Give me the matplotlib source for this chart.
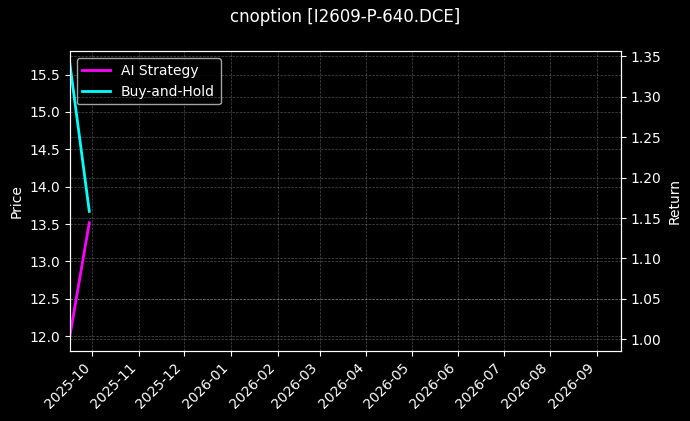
import matplotlib
matplotlib.use("Agg")
import matplotlib.pyplot as plt
import matplotlib.dates as mdates
import pandas as pd

plt.style.use('dark_background')

title = "cnoption [I2609-P-640.DCE]"
dates = pd.to_datetime(["2025-09-16", "2025-09-29"])
ai_strategy = [1.0030, 1.144]      # return (right axis)
buy_and_hold = [15.66, 13.67]      # price (left axis)
x_range = pd.to_datetime(["2025-09-16", "2026-09-17"])
price_lim = (11.80, 15.81)
return_lim = (0.9855, 1.356)

fig, ax1 = plt.subplots(figsize=(6.9, 4.21), dpi=100)
ax2 = ax1.twinx()

l2, = ax1.plot(dates, buy_and_hold, color='cyan', linewidth=2, label='Buy-and-Hold', zorder=3)
l1, = ax2.plot(dates, ai_strategy, color='magenta', linewidth=2, label='AI Strategy', zorder=2)

ax1.set_ylim(*price_lim)
ax2.set_ylim(*return_lim)
ax1.set_xlim(x_range[0], x_range[1])

ax1.set_ylabel('Price')
ax2.set_ylabel('Return')
ax1.xaxis.set_major_locator(mdates.MonthLocator())
ax1.xaxis.set_major_formatter(mdates.DateFormatter('%Y-%m'))
plt.setp(ax1.get_xticklabels(), rotation=45, ha='right')

ax1.grid(True, linestyle='--', linewidth=0.5, alpha=0.3)
ax2.grid(True, linestyle='--', linewidth=0.5, alpha=0.3)

ax1.legend([l1, l2], ['AI Strategy', 'Buy-and-Hold'], loc='upper left')
fig.suptitle(title, fontsize=12)
fig.subplots_adjust(left=0.101, right=0.9, top=0.878, bottom=0.166)
fig.savefig('out.png', dpi=100)
